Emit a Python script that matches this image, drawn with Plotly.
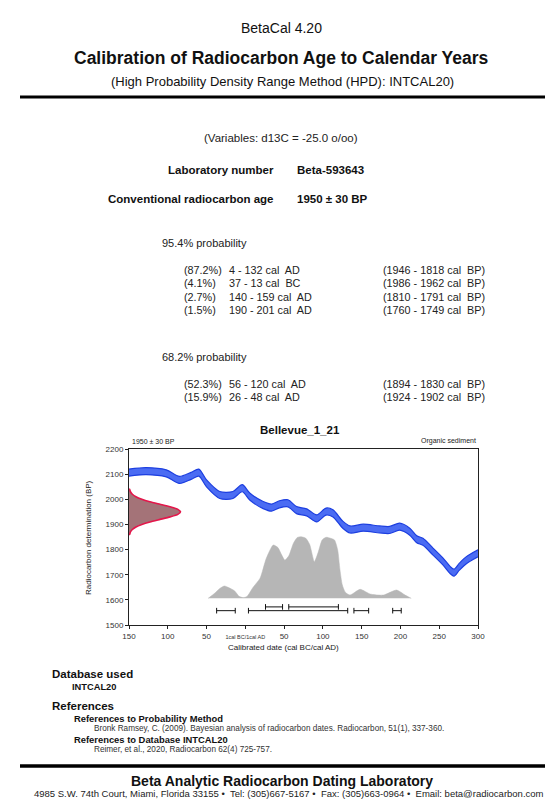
import plotly.graph_objects as go

# The page is rendered with an 8px body margin, so the figure is shifted by OFF.
OFF = 8
W, H = 554 - OFF, 801 - OFF
PL, PR, PT, PB = 129, 478, 449, 625  # plot area in page pixels
FONT = "Arial, Liberation Sans, sans-serif"

# ---------------- data ----------------
cal_years = [-150, -128, -102, -85, -70, -60, -50, -33, -16, -4, 6, 23, 34, 44, 55, 66, 79, 92,
             104, 113, 126, 135, 152, 173, 186, 199, 212, 221, 229, 242, 255, 264, 269, 276, 285, 300]
cal_bp = [2106, 2112, 2103, 2077, 2093, 2106, 2063, 2017, 2017, 2044, 2010, 1977, 1967, 1980, 1984,
          1957, 1948, 1924, 1951, 1944, 1898, 1880, 1887, 1880, 1878, 1891, 1871, 1841, 1831, 1792,
          1752, 1719, 1708, 1732, 1758, 1785]
cal_sigma = [14] * len(cal_years)

rc_bp = [2040, 2030, 2020, 2010, 2000, 1990, 1980, 1970, 1960, 1950, 1940, 1930, 1920, 1910, 1900,
         1890, 1880, 1870, 1860]
rc_width = [0.7, 1.9, 4.4, 9, 16.6, 27, 40, 53, 63, 66.5, 63, 53, 40, 27, 16.6, 9, 4.4, 1.9, 0.7]

prob_years = [-48, -40, -33, -27, -21, -14, -8, -3, 2, 10, 19, 27, 36, 42, 47, 51, 56, 62, 67, 72,
              78, 83, 89, 94, 99, 104, 110, 115, 119, 122, 125, 129, 135, 148, 161, 178, 195, 206, 214]
prob_bp = [1606, 1625, 1645, 1655, 1648, 1636, 1614, 1609, 1613, 1650, 1686, 1765, 1818, 1808, 1778,
           1758, 1775, 1825, 1848, 1851, 1845, 1820, 1752, 1790, 1838, 1849, 1845, 1838, 1800, 1720,
           1660, 1630, 1619, 1642, 1623, 1619, 1639, 1619, 1606]
prob_base = 1606

hpd95_from = [-37, 4, 140, 190]
hpd95_to = [-13, 132, 159, 201]
hpd68_from = [26, 56]
hpd68_to = [48, 120]
hpd95_level = 1557
hpd68_level = 1572

x_tickvals = [-150, -100, -50, 0, 50, 100, 150, 200, 250, 300]
x_ticktext = ["150", "100", "50", "<span style='font-size:5.5px'>1cal BC/1cal AD</span>",
              "50", "100", "150", "200", "250", "300"]
y_tickvals = [1500, 1600, 1700, 1800, 1900, 2000, 2100, 2200]

rows95 = [("(87.2%)", "4 - 132 cal  AD", "(1946 - 1818 cal  BP)"),
          ("(4.1%)", "37 - 13 cal  BC", "(1986 - 1962 cal  BP)"),
          ("(2.7%)", "140 - 159 cal  AD", "(1810 - 1791 cal  BP)"),
          ("(1.5%)", "190 - 201 cal  AD", "(1760 - 1749 cal  BP)")]
rows68 = [("(52.3%)", "56 - 120 cal  AD", "(1894 - 1830 cal  BP)"),
          ("(15.9%)", "26 - 48 cal  AD", "(1924 - 1902 cal  BP)")]

# ---------------- figure ----------------
fig = go.Figure()

# calibration curve band
upper = [b + s for b, s in zip(cal_bp, cal_sigma)]
lower = [b - s for b, s in zip(cal_bp, cal_sigma)]
fig.add_trace(go.Scatter(x=cal_years, y=upper, mode="lines",
                         line=dict(color="#1d3fe0", width=1.2, shape="spline", smoothing=0.8),
                         hoverinfo="skip"))
fig.add_trace(go.Scatter(x=cal_years, y=lower, mode="lines", fill="tonexty",
                         fillcolor="#4b6cf3",
                         line=dict(color="#1d3fe0", width=1.2, shape="spline", smoothing=0.8),
                         hoverinfo="skip"))

# calibrated probability distribution (grey)
fig.add_trace(go.Scatter(x=[prob_years[0]] + prob_years + [prob_years[-1]],
                         y=[prob_base] + prob_bp + [prob_base],
                         mode="lines", fill="toself", fillcolor="#b6b6b6",
                         line=dict(color="#b6b6b6", width=0.5, shape="spline", smoothing=0.6),
                         hoverinfo="skip"))

# radiocarbon age distribution (red)
x0 = x_tickvals[0]
fig.add_trace(go.Scatter(x=[x0] + [x0 + w for w in rc_width] + [x0],
                         y=[rc_bp[0]] + rc_bp + [rc_bp[-1]],
                         mode="lines", fill="toself", fillcolor="#a47378",
                         line=dict(color="#e3174b", width=1.6, shape="spline", smoothing=0.6),
                         hoverinfo="skip"))


# HPD range brackets
def brackets(starts, ends, level):
    xs, ys = [], []
    for a, b in zip(starts, ends):
        xs += [a, b, None]
        ys += [level, level, None]
    fig.add_trace(go.Scatter(x=xs, y=ys, mode="lines", line=dict(color="#111", width=1),
                             hoverinfo="skip"))
    ex = [v for pair in zip(starts, ends) for v in pair]
    fig.add_trace(go.Scatter(x=ex, y=[level] * len(ex), mode="markers",
                             marker=dict(symbol="line-ns", size=4,
                                         line=dict(color="#111", width=1)),
                             hoverinfo="skip"))


brackets(hpd95_from, hpd95_to, hpd95_level)
brackets(hpd68_from, hpd68_to, hpd68_level)


def px(x):
    return (x - PL) / (PR - PL)


def py(y):
    return (PB - y) / (PB - PT)


annotations = []


def ann(text, x, y, size, bold=False, anchor="left", color="#111", angle=0):
    if bold:
        text = "<b>" + text + "</b>"
    annotations.append(dict(text=text, x=px(x), y=py(y), xref="paper", yref="paper",
                            xanchor=anchor, yanchor="middle", showarrow=False, textangle=angle,
                            font=dict(size=size, family=FONT, color=color)))


# header
ann("BetaCal 4.20", 281, 28, 14, anchor="center")
ann("Calibration of Radiocarbon Age to Calendar Years", 281, 58, 17.5, bold=True, anchor="center")
ann("(High Probability Density Range Method (HPD): INTCAL20)", 282, 82, 13, anchor="center")

ann("(Variables: d13C = -25.0 o/oo)", 281, 138, 11.5, anchor="center", color="#222")
ann("Laboratory number", 276, 170, 11.5, bold=True, anchor="right")
ann("Beta-593643", 295, 170, 11.5, bold=True)
ann("Conventional radiocarbon age", 276, 199, 11.5, bold=True, anchor="right")
ann("1950 ± 30 BP", 295, 199, 11.5, bold=True)

# probability tables
ann("95.4% probability", 160, 243, 11, color="#222")
for i, (p, r, bp) in enumerate(rows95):
    y = 270 + i * 13.4
    ann(p, 182, y, 10.8, color="#222")
    ann(r, 227, y, 10.8, color="#222")
    ann(bp, 381, y, 10.8, color="#222")
ann("68.2% probability", 160, 357, 11, color="#222")
for i, (p, r, bp) in enumerate(rows68):
    y = 384 + i * 13.4
    ann(p, 182, y, 10.8, color="#222")
    ann(r, 227, y, 10.8, color="#222")
    ann(bp, 381, y, 10.8, color="#222")

# chart labels
ann("Bellevue_1_21", 300, 430, 11.5, bold=True, anchor="center")
ann("1950 ± 30 BP", 130, 441, 7, color="#222")
ann("Organic sediment", 478, 441, 7, anchor="right", color="#222")
ann("Radiocarbon determination (BP)", 88, 538, 8, anchor="center", color="#222", angle=-90)
ann("Calibrated date (cal BC/cal AD)", 283, 647, 8, anchor="center", color="#222")

# database / references
ann("Database used", 50, 674, 11.5, bold=True)
ann("INTCAL20", 70, 687, 9.3, bold=True)
ann("References", 50, 706, 11.5, bold=True)
ann("References to Probability Method", 72, 718, 9.4, bold=True)
ann("Bronk Ramsey, C. (2009). Bayesian analysis of radiocarbon dates. Radiocarbon, 51(1), 337-360.",
    92, 728, 8.2, color="#333")
ann("References to Database INTCAL20", 72, 739, 9.4, bold=True)
ann("Reimer, et al., 2020, Radiocarbon 62(4) 725-757.", 92, 749, 8.2, color="#333")

# footer
ann("Beta Analytic Radiocarbon Dating Laboratory", 282, 781, 14, bold=True, anchor="center")
ann("4985 S.W. 74th Court, Miami, Florida 33155 •  Tel: (305)667-5167 •  Fax: (305)663-0964 •  "
    "Email: beta@radiocarbon.com", 289, 793, 9.5, anchor="center", color="#222")

shapes = [
    dict(type="line", xref="paper", yref="paper", x0=px(20), x1=px(545), y0=py(97), y1=py(97),
         line=dict(color="#000", width=3.2)),
    dict(type="line", xref="paper", yref="paper", x0=px(20), x1=px(545), y0=py(766), y1=py(766),
         line=dict(color="#000", width=3.5)),
]

fig.update_layout(
    width=W, height=H, autosize=False,
    margin=dict(l=PL - OFF, r=554 - PR, t=PT - OFF, b=801 - PB, pad=0),
    paper_bgcolor="white", plot_bgcolor="white",
    showlegend=False,
    annotations=annotations, shapes=shapes,
    font=dict(family=FONT, color="#222"),
)
fig.update_xaxes(range=[-150, 300], tickvals=x_tickvals, ticktext=x_ticktext,
                 showgrid=False, zeroline=False, showline=True, linecolor="#222", linewidth=1,
                 mirror=True, ticks="outside", ticklen=3, tickcolor="#222",
                 tickfont=dict(size=8, family=FONT, color="#333"))
fig.update_yaxes(range=[1500, 2200], tickvals=y_tickvals,
                 showgrid=False, zeroline=False, showline=True, linecolor="#222", linewidth=1,
                 mirror=True, ticks="outside", ticklen=3, tickcolor="#222",
                 tickfont=dict(size=8, family=FONT, color="#333"))

fig.write_html("out.html")
